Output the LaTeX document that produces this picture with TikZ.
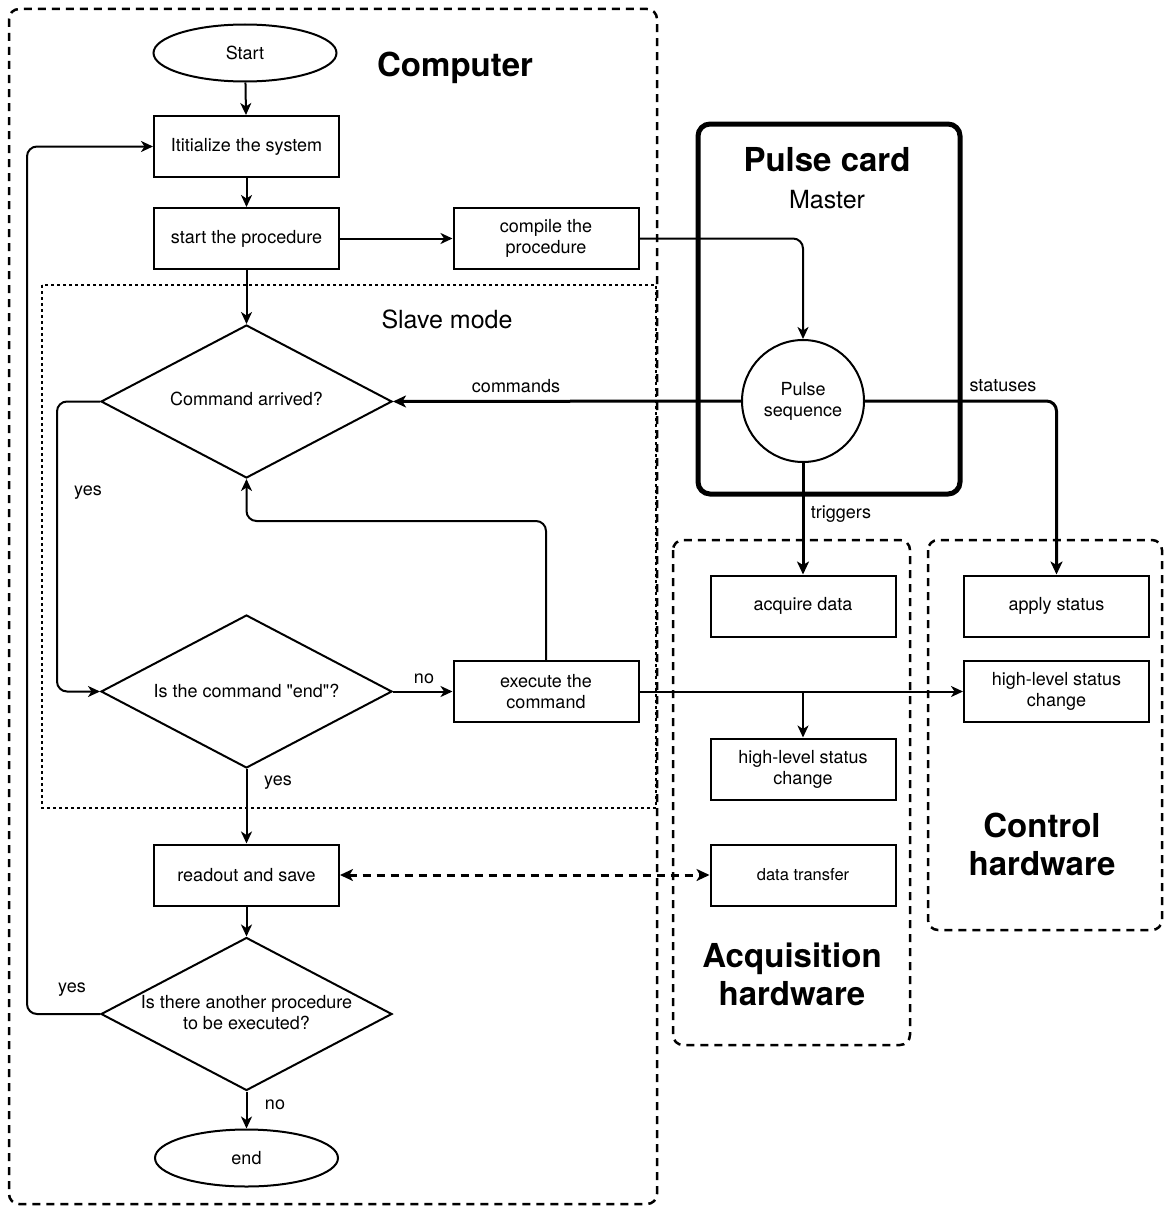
\documentclass[tikz,border=0pt]{standalone}
\usepackage{fontspec}
\setmainfont{TeX Gyre Heros}
\newfontfamily\plainheros{TeX Gyre Heros}
\usetikzlibrary{arrows.meta,shapes.geometric,calc}
\begin{document}
\begin{tikzpicture}[x=1pt,y=-1pt,
 every node/.style={font=\fontsize{18}{21}\selectfont},
 box/.style={draw,line width=2pt,minimum width=185pt,minimum height=61pt,inner sep=0pt,align=center},
 term/.style={draw,line width=2pt,ellipse,minimum width=183pt,minimum height=57pt,inner sep=0pt},
 dia/.style={draw,line width=2pt,diamond,minimum width=291pt,minimum height=153pt,inner sep=0pt},
 arr/.style={line width=2pt,-{Stealth[length=12pt,width=11pt,inset=3.5pt]}},
 tarr/.style={line width=3pt,-{Stealth[length=13pt,width=12pt,inset=3.5pt]}},
 cont/.style={draw,line width=2.5pt,dash pattern=on 8pt off 6pt,rounded corners=10pt},
 lbl/.style={font=\fontsize{18}{21}\selectfont},
 big/.style={font=\fontsize{33}{38}\selectfont\bfseries,align=center},
 mid/.style={font=\fontsize{25}{30}\selectfont}
]
\useasboundingbox (0,0) rectangle (1164,1207);

% containers
\draw[cont] (9,9) rectangle (657,1204);
\draw[line width=2pt,dash pattern=on 3pt off 3pt] (42,285) rectangle (656,808);
\draw[line width=5pt,rounded corners=12pt] (698,124) rectangle (960,494);
\draw[cont] (673,540) rectangle (910,1045);
\draw[cont] (928,540) rectangle (1162,930);

% titles
\node[big] (tcomp) at (455,68) {Computer};
\node[big] (tpulse) at (827,160) {Pulse card};
\node[mid] (tmaster) at (827,200) {Master};
\node[mid] (tslave) at (447,319) {Slave mode};
\node[big] (tacq) at (792,974) {Acquisition\\hardware};
\node[big] (tctrl) at (1042,844) {Control\\hardware};

% flowchart
\node[term] (start) at (245,53) {Start};
\node[box] (init) at (246.5,146.5) {Ititialize the system};
\node[box] (sp) at (246.5,238.5) {start the procedure};
\node[box] (comp) at (546,238.5) {compile the\\procedure};
\node[dia] (ca) at (246.5,401.5) {};
\node[lbl] (catext) at (246.5,399) {Command arrived?};
\node[dia] (ie) at (246.5,691.5) {};
\node[lbl,font=\plainheros\fontsize{18}{21}\selectfont] (ietext) at (246.5,691) {Is the command "end"?};
\node[box] (exe) at (546,691.5) {execute the\\command};
\node[box] (ro) at (246.5,875) {readout and save};
\node[dia] (an) at (246.5,1014) {};
\node[lbl,align=center] (antext) at (246.5,1013) {Is there another procedure\\to be executed?};
\node[term] (end) at (246.5,1158) {end};

% pulse card
\node[draw,circle,line width=2pt,minimum size=122pt,inner sep=0pt,align=center] (ps) at (803,401) {Pulse\\sequence};

% hardware
\node[box] (ad) at (803,606) {acquire data};
\node[box] (hl1) at (803,769) {high-level status\\change};
\node[box,font=\fontsize{16.5}{20}\selectfont] (dt) at (803,875) {data transfer};
\node[box] (as) at (1056.5,606) {apply status};
\node[box] (hl2) at (1056.5,691.5) {high-level status\\change};

% connectors
\draw[arr] (start) -- (init);
\draw[arr] (init) -- (sp);
\draw[arr] (sp) -- (comp);
\draw[arr,rounded corners=10pt] (comp.east) -- (comp.east -| ps.north) -- (ps.north);
\draw[arr] (sp) -- (ca.north);
\draw[tarr] (ps.west) -- (ca.east);
\draw[tarr,rounded corners=10pt] (ps.east) -- (ps.east -| as.north) -- (as.north);
\draw[tarr] (ps.south) -- (ad.north);
\draw[arr,rounded corners=10pt] (ca.west) -- ++(-43,0) |- (ie.west);
\draw[arr] (ie.east) -- (exe.west);
\draw[arr,rounded corners=10pt] (exe.north) -- ++(0,-139) -| (ca.south);
\draw[arr] (exe.east) -- (hl2.west);
\draw[arr] (exe.east -| hl1.north) -- (hl1.north);
\draw[arr] (ie.south) -- (ro.north);
\draw[line width=3pt,dash pattern=on 8pt off 6pt,{Stealth[length=13pt,width=12pt,inset=3.5pt]}-{Stealth[length=13pt,width=12pt,inset=3.5pt]}] (ro.east) -- (dt.west);
\draw[arr] (ro) -- (an.north);
\draw[arr,rounded corners=10pt] (an.west) -- ++(-73,0) |- (init.west);
\draw[arr] (an.south) -- (end.north);

% labels
\node[lbl] (lcmd) at (516,386) {commands};
\node[lbl] (lstat) at (1003,386) {statuses};
\node[lbl] (ltrig) at (841,514) {triggers};
\node[lbl] (lyes1) at (88,493) {yes};
\node[lbl] (lno1) at (424,679) {no};
\node[lbl] (lyes2) at (278,783) {yes};
\node[lbl] (lyes3) at (72,990) {yes};
\node[lbl] (lno2) at (275,1105) {no};
\end{tikzpicture}
\end{document}
